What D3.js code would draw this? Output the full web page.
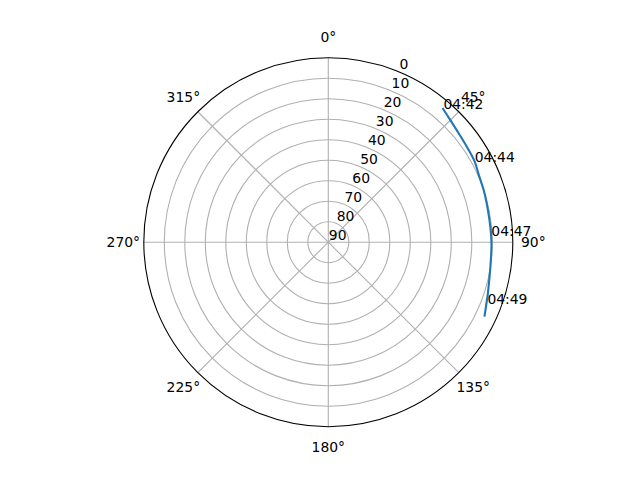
<html>
<head>
<title>Pass polar plot</title>
<script src="https://d3js.org/d3.v7.min.js" charset="utf-8"></script>
<style>
body { margin: 0; background: white; }
text { font-family: "DejaVu Sans", sans-serif; font-size: 13.9px; fill: black; }
</style>
</head>
<body>
<script>
// pass track: azimuth (deg, clockwise from N) and elevation (deg)
var trackAz = [40.4, 45, 50, 56, 61.2, 66, 72, 79, 85, 90.6, 98.8, 104, 108, 112, 115.5];
var trackEl = [4.0, 5.8, 7.1, 8.0, 8.5, 9.6, 10.1, 10.6, 10.6, 10.4, 10.0, 9.2, 8.2, 7.0, 5.6];

// time labels along the track
var timeLabels = ["04:42", "04:44", "04:47", "04:49"];
var timeAz = [40.9, 61.2, 87.7, 111.3];
var timeEl = [4.25, 8.5, 10.4, 6.7];

// axis ticks
var thetaTicks = [0, 45, 90, 135, 180, 225, 270, 315];
var rTicks = [0, 10, 20, 30, 40, 50, 60, 70, 80, 90];

var width = 640, height = 480;
var cx = 328.3, cy = 242.2, R = 184.5;

var rScale = d3.scaleLinear().domain([0, 90]).range([R, 0]);
var rad = function(a) { return a * Math.PI / 180; };

var svg = d3.select("body").append("svg")
  .attr("width", width)
  .attr("height", height);
svg.append("rect").attr("width", width).attr("height", height).attr("fill", "white");

var g = svg.append("g").attr("transform", "translate(" + cx + "," + cy + ")");

// grid circles
g.selectAll(".rgrid")
  .data(rTicks.filter(function(d) { return d > 0 && d < 90; }))
  .enter().append("circle")
  .attr("r", function(d) { return rScale(d); })
  .attr("fill", "none")
  .attr("stroke", "#b0b0b0")
  .attr("stroke-width", 1.1);

// spokes
g.selectAll(".tgrid")
  .data(thetaTicks)
  .enter().append("line")
  .attr("x1", 0).attr("y1", 0)
  .attr("x2", function(d) { return R * Math.sin(rad(d)); })
  .attr("y2", function(d) { return -R * Math.cos(rad(d)); })
  .attr("stroke", "#b0b0b0")
  .attr("stroke-width", 1.1);

// outer frame
g.append("circle").attr("r", R).attr("fill", "none").attr("stroke", "black").attr("stroke-width", 1.1);

// theta labels
g.selectAll(".tlab")
  .data(thetaTicks)
  .enter().append("text")
  .attr("x", function(d) { return (R + 20.5) * Math.sin(rad(d)); })
  .attr("y", function(d) { return -(R + 20.5) * Math.cos(rad(d)); })
  .attr("text-anchor", "middle")
  .attr("dominant-baseline", "central")
  .text(function(d) { return d + "\u00b0"; });

// radial labels at 22.5 deg
g.selectAll(".rlab")
  .data(rTicks)
  .enter().append("text")
  .attr("x", function(d) { return rScale(d) * Math.sin(rad(22.5)) + 0.5; })
  .attr("y", function(d) { return -rScale(d) * Math.cos(rad(22.5)) - 2.5; })
  .attr("text-anchor", "start")
  .text(function(d) { return d; });

// track line
var track = trackAz.map(function(a, i) { return [a, trackEl[i]]; });
var line = d3.lineRadial()
  .angle(function(d) { return rad(d[0]); })
  .radius(function(d) { return rScale(d[1]); })
  .curve(d3.curveCatmullRom);
g.append("path")
  .attr("d", line(track))
  .attr("fill", "none")
  .attr("stroke", "#1f77b4")
  .attr("stroke-width", 2.1);

// time labels
g.selectAll(".time")
  .data(timeLabels)
  .enter().append("text")
  .attr("x", function(d, i) { return rScale(timeEl[i]) * Math.sin(rad(timeAz[i])); })
  .attr("y", function(d, i) { return -rScale(timeEl[i]) * Math.cos(rad(timeAz[i])); })
  .attr("text-anchor", "start")
  .text(function(d) { return d; });
</script>
</body>
</html>
